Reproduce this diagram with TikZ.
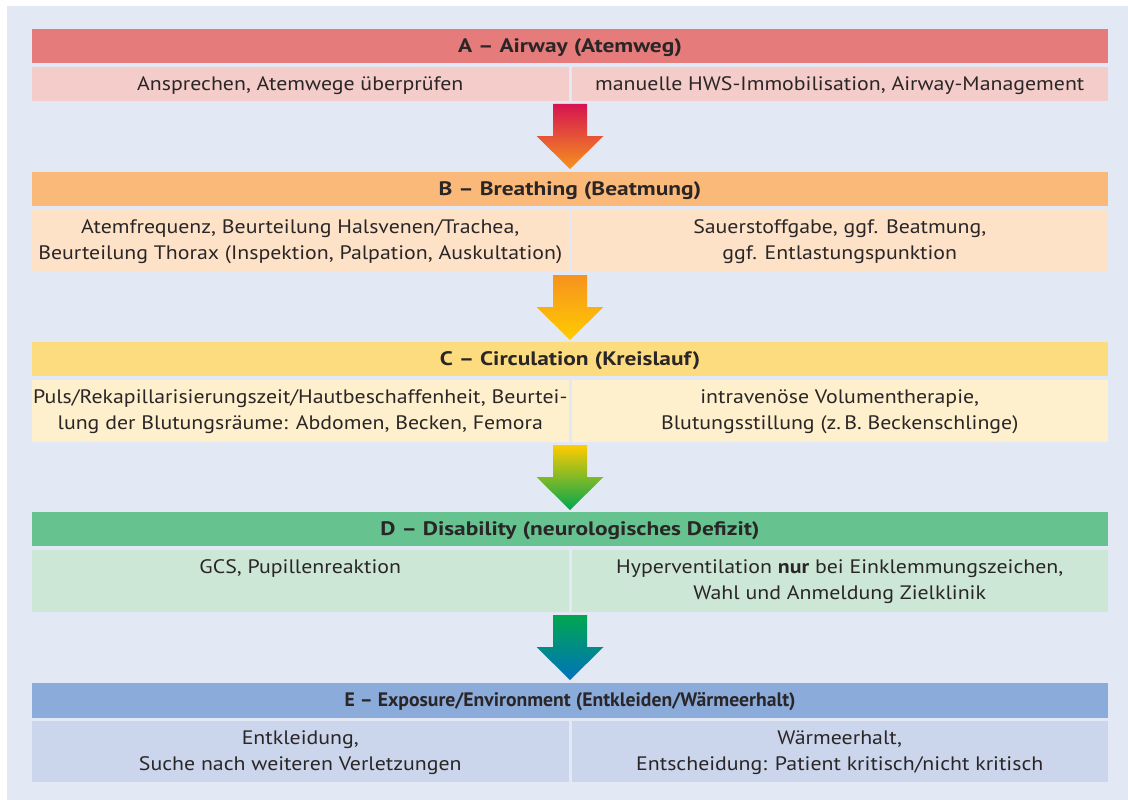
\documentclass[tikz,border=0pt]{standalone}
\usepackage{fontspec}
\setmainfont{PT Sans}[FakeStretch=1.12]
\newfontfamily\hdrfont{PT Sans}[FakeStretch=1.2]
\newfontfamily\hdrEfont{PT Sans}[FakeStretch=1.01]
\usetikzlibrary{calc}
\definecolor{bgc}{HTML}{E2E8F4}
\definecolor{txtc}{HTML}{2A2627}
\definecolor{hAc}{HTML}{E57B7B}
\definecolor{sAc}{HTML}{F4CCCA}
\definecolor{hBc}{HTML}{FAB978}
\definecolor{sBc}{HTML}{FDE2C8}
\definecolor{hCc}{HTML}{FDDC80}
\definecolor{sCc}{HTML}{FEF0CD}
\definecolor{hDc}{HTML}{66C28E}
\definecolor{sDc}{HTML}{CDE7D6}
\definecolor{hEc}{HTML}{8BABDA}
\definecolor{sEc}{HTML}{CBD6EC}
\definecolor{arA}{RGB}{214,20,80}
\definecolor{arB}{RGB}{246,146,30}
\definecolor{arC}{RGB}{255,204,0}
\definecolor{arD}{RGB}{0,166,80}
\definecolor{arE}{RGB}{0,114,188}
\newcommand{\flowarrow}[4]{%
  \shade[top color=#3, bottom color=#4]
    ($(#2.north |- #1.south)+(-17,3)$) -- ($(#2.north |- #1.south)+(17,3)$)
    -- ($(#2.north |- #1.south)+(17,35)$) -- ($(#2.north |- #1.south)+(33.5,35)$)
    -- ($(#2.north |- #1.south)+(0,68)$)
    -- ($(#2.north |- #1.south)+(-33.5,35)$) -- ($(#2.north |- #1.south)+(-17,35)$) -- cycle;}
\begin{document}
\begin{tikzpicture}[x=1pt,y=-1pt,
  hdr/.style={anchor=north west, inner sep=0pt, outer sep=0pt, minimum width=1076pt,
    minimum height=34pt, font=\hdrfont\fontsize{19.5}{25.5}\selectfont\bfseries, text=txtc,
    text height=18pt, text depth=5pt},
  cellbox/.style={anchor=north west, inner sep=0pt, outer sep=0pt, minimum width=536.5pt,
    minimum height=#1},
  celltext/.style={anchor=north, inner sep=0pt, outer sep=0pt, align=center,
    font=\fontsize{19.5}{25.5}\selectfont, text=txtc}]
\useasboundingbox (0,0) rectangle (1128,800);
\fill[white] (0,0) rectangle (1128,800);
\fill[bgc] (7,6) rectangle (1128,800);

% A
\node[hdr, fill=hAc] (hA) at (32,29) {A – Airway (Atemweg)};
\node[cellbox=34pt, fill=sAc] (lA) at (32,67) {};
\node[cellbox=34pt, fill=sAc] (rA) at (571.5,67) {};
\node[celltext] (tlA) at ($(lA.north)+(0,5.5)$) {\rule{0pt}{18pt}Ansprechen, Atemwege überprüfen};
\node[celltext] (trA) at ($(rA.north)+(0,5.5)$) {\rule{0pt}{18pt}manuelle HWS-Immobilisation, Airway-Management};

% B
\node[hdr, fill=hBc] (hB) at (32,172) {B – Breathing (Beatmung)};
\node[cellbox=62pt, fill=sBc] (lB) at (32,210) {};
\node[cellbox=62pt, fill=sBc] (rB) at (571.5,210) {};
\node[celltext] (tlB) at ($(lB.north)+(0,5.5)$) {\rule{0pt}{18pt}Atemfrequenz, Beurteilung Halsvenen/Trachea,\\Beurteilung Thorax (Inspektion, Palpation, Auskultation)};
\node[celltext] (trB) at ($(rB.north)+(0,5.5)$) {\rule{0pt}{18pt}Sauerstoffgabe, ggf. Beatmung,\\ggf. Entlastungspunktion};

% C
\node[hdr, fill=hCc] (hC) at (32,342) {C – Circulation (Kreislauf)};
\node[cellbox=62pt, fill=sCc] (lC) at (32,380) {};
\node[cellbox=62pt, fill=sCc] (rC) at (571.5,380) {};
\node[celltext] (tlC) at ($(lC.north)+(0,5.5)$) {\rule{0pt}{18pt}Puls/Rekapillarisierungszeit/Hautbeschaffenheit, Beurtei-\\lung der Blutungsräume: Abdomen, Becken, Femora};
\node[celltext] (trC) at ($(rC.north)+(0,5.5)$) {\rule{0pt}{18pt}intravenöse Volumentherapie,\\Blutungsstillung (z.\,B. Beckenschlinge)};

% D
\node[hdr, fill=hDc] (hD) at (32,512) {D – Disability (neurologisches Defizit)};
\node[cellbox=62pt, fill=sDc] (lD) at (32,550) {};
\node[cellbox=62pt, fill=sDc] (rD) at (571.5,550) {};
\node[celltext] (tlD) at ($(lD.north)+(0,5.5)$) {\rule{0pt}{18pt}GCS, Pupillenreaktion};
\node[celltext] (trD) at ($(rD.north)+(0,5.5)$) {\rule{0pt}{18pt}Hyperventilation \textbf{nur} bei Einklemmungszeichen,\\Wahl und Anmeldung Zielklinik};

% E
\node[hdr, fill=hEc, minimum height=34.5pt, font=\hdrEfont\fontsize{19.5}{25.5}\selectfont\bfseries] (hE) at (32,683) {E – Exposure/Environment (Entkleiden/Wärmeerhalt)};
\node[cellbox=61pt, fill=sEc] (lE) at (32,721) {};
\node[cellbox=61pt, fill=sEc] (rE) at (571.5,721) {};
\node[celltext] (tlE) at ($(lE.north)+(0,5.5)$) {\rule{0pt}{18pt}Entkleidung,\\Suche nach weiteren Verletzungen};
\node[celltext] (trE) at ($(rE.north)+(0,5.5)$) {\rule{0pt}{18pt}Wärmeerhalt,\\Entscheidung: Patient kritisch/nicht kritisch};

% arrows
\flowarrow{lA}{hB}{arA}{arB}
\flowarrow{lB}{hC}{arB}{arC}
\flowarrow{lC}{hD}{arC}{arD}
\flowarrow{lD}{hE}{arD}{arE}
\end{tikzpicture}
\end{document}
